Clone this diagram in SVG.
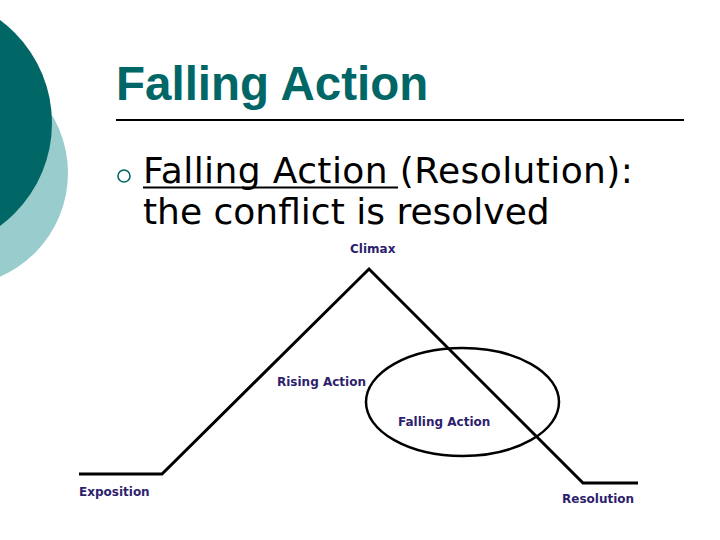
<svg xmlns="http://www.w3.org/2000/svg" width="720" height="540" viewBox="0 0 720 540">
<style>
.title{font-family:"Liberation Sans",Arial,sans-serif;font-weight:bold;font-size:47.5px;fill:#006666}
.body{font-family:"DejaVu Sans",Verdana,sans-serif;font-size:36px;fill:#000}
.lbl{font-family:"DejaVu Sans",Verdana,sans-serif;font-weight:bold;font-size:12px;fill:#2E1F6E}
.plot{fill:none;stroke:#000;stroke-width:3;stroke-linejoin:miter}
</style>
<rect width="720" height="540" fill="#fff"/>
<g id="decor">
<circle cx="-45" cy="173" r="113" fill="#99CCCC"/>
<circle cx="-76" cy="123" r="128" fill="#006666"/>
</g>
<g id="title">
<text class="title" x="116" y="100">Falling Action</text>
<line x1="116" y1="120" x2="684" y2="120" stroke="#000" stroke-width="2"/>
</g>
<g id="bullet">
<circle cx="124" cy="176" r="6" fill="none" stroke="#006666" stroke-width="1.6"/>
<text class="body" x="143" y="183" letter-spacing="0.4">Falling Action (Resolution):</text>
<line x1="143" y1="187.5" x2="398" y2="187.5" stroke="#000" stroke-width="2.2"/>
<text class="body" x="143" y="224">the conflict is resolved</text>
</g>
<g id="connectors">
<polyline class="plot" points="79,474 162,474 369,269 583,483 638,483"/>
</g>
<g id="falling-circle">
<ellipse cx="462.5" cy="402" rx="96.5" ry="54" fill="none" stroke="#000" stroke-width="2.5"/>
</g>
<g id="climax"><text class="lbl" x="350" y="253">Climax</text></g>
<g id="rising"><text class="lbl" x="277" y="386">Rising Action</text></g>
<g id="falling"><text class="lbl" x="398" y="426">Falling Action</text></g>
<g id="exposition"><text class="lbl" x="79" y="496">Exposition</text></g>
<g id="resolution"><text class="lbl" x="562" y="503">Resolution</text></g>
</svg>
